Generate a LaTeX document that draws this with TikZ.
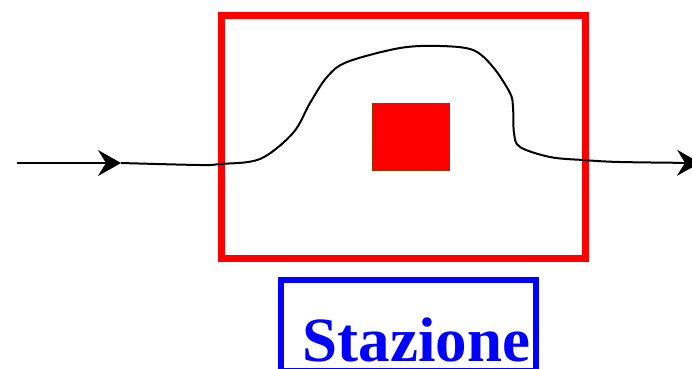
\documentclass[tikz,border=0pt]{standalone}
\usepackage{fontspec}
\setmainfont{Liberation Serif}
\usetikzlibrary{arrows.meta}
\definecolor{sqborder}{RGB}{160,50,0}
\tikzset{
  pathline/.style={line width=2pt, black, -{Stealth[length=23pt, width=26pt, inset=8pt]}},
  redframe/.style={draw=red, line width=7pt},
  blueframe/.style={draw=blue, line width=6pt},
  station/.style={fill=red, draw=sqborder, line width=1.5pt},
  label/.style={text=blue, font=\fontsize{63}{63}\selectfont\bfseries, inner sep=0pt, anchor=base}
}
\begin{document}
\begin{tikzpicture}[x=1pt, y=-1pt]
\useasboundingbox (0,0) rectangle (692,368);
\draw[redframe] (221,15) rectangle (585,258);
\node[station, minimum width=77pt, minimum height=67pt, inner sep=0pt] (sq) at (411,137) {};
\draw[blueframe] (281,280) rectangle (536,370.5);
\node[label] (lbl) at (416.5,361) {Stazione};
\coordinate (start) at (17,163);
\coordinate (mid) at (121,163);
\coordinate (finish) at (700,163);
\draw[pathline] (start) -- (mid);
\draw[pathline] plot[smooth, tension=0.55] coordinates {
 (121,163) (200,165) (220,164) (260,159) (293,133) (310,103) (327,77) (347,62)
 (400,48) (440,46) (473,50) (493,67) (510,93) (513,107) (514,133) (520,147)
 (550,157) (583,160) (620,162) (700,163)};
\end{tikzpicture}
\end{document}
